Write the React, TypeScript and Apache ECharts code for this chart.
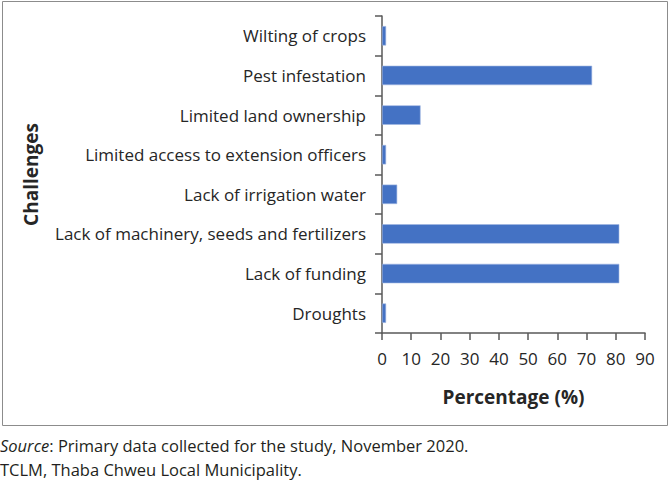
import React, { useEffect, useRef } from "react";
import * as echarts from "echarts";

const categories = [
  "Droughts",
  "Lack of funding",
  "Lack of machinery, seeds and fertilizers",
  "Lack of irrigation water",
  "Limited access to extension officers",
  "Limited land ownership",
  "Pest infestation",
  "Wilting of crops",
];
const values = [1.4, 81.2, 81.2, 5.2, 1.4, 13.2, 71.9, 1.4];
const xTicks = { min: 0, max: 90, interval: 10 };
const yTitle = "Challenges";
const xTitle = "Percentage (%)";
const noteLine1Italic = "Source";
const noteLine1Rest = ": Primary data collected for the study, November 2020.";
const noteLine2 = "TCLM, Thaba Chweu Local Municipality.";

const FONT = "'Open Sans', Lato, sans-serif";

export default function App() {
  const ref = useRef<HTMLDivElement>(null);
  useEffect(() => {
    if (!ref.current) return;
    const chart = echarts.init(ref.current, undefined, { renderer: "svg" });
    chart.setOption({
      animation: false,
      backgroundColor: "#ffffff",
      textStyle: { fontFamily: FONT },
      grid: { left: 382, right: 26, top: 16, bottom: 147, containLabel: false },
      xAxis: {
        type: "value",
        min: xTicks.min,
        max: xTicks.max,
        interval: xTicks.interval,
        axisLine: { show: true, lineStyle: { color: "#595959", width: 1.5 } },
        axisTick: { show: true, length: 7, lineStyle: { color: "#595959", width: 1.5 } },
        splitLine: { show: false },
        axisLabel: { color: "#262626", fontSize: 17, margin: 17, fontFamily: FONT },
        name: xTitle,
        nameLocation: "middle",
        nameGap: 54,
        nameTextStyle: { color: "#262626", fontSize: 19, fontWeight: "bold", fontFamily: FONT },
      },
      yAxis: {
        type: "category",
        data: categories,
        axisLine: { show: true, lineStyle: { color: "#595959", width: 1.5 } },
        axisTick: { show: true, length: 7, lineStyle: { color: "#595959", width: 1.5 } },
        axisLabel: { color: "#262626", fontSize: 17, margin: 16, fontFamily: FONT },
        name: yTitle,
        nameLocation: "middle",
        nameGap: 342,
        nameRotate: 90,
        nameTextStyle: { color: "#262626", fontSize: 19, fontWeight: "bold", fontFamily: FONT },
      },
      series: [
        {
          type: "bar",
          data: values,
          barCategoryGap: "51%",
          itemStyle: { color: "#4472C4", borderColor: "#9fb6e0", borderWidth: 0.6 },
        },
      ],
      graphic: [
        {
          type: "rect",
          shape: { x: 2.5, y: 1.5, width: 665, height: 424 },
          style: { fill: "none", stroke: "#8c8c8c", lineWidth: 1 },
          silent: true,
        },
        {
          type: "text",
          left: 0,
          top: 437,
          style: {
            text: "{i|" + noteLine1Italic + "}{n|" + noteLine1Rest + "}",
            rich: {
              i: { fontStyle: "italic", fontSize: 16.5, fill: "#231f20", fontFamily: FONT },
              n: { fontSize: 16.5, fill: "#231f20", fontFamily: FONT },
            },
          },
        },
        {
          type: "text",
          left: 0,
          top: 461,
          style: { text: noteLine2, fontSize: 16.5, fill: "#231f20", fontFamily: FONT },
        },
      ],
    });
    return () => chart.dispose();
  }, []);
  return (
    <div
      ref={ref}
      style={{ position: "fixed", left: 0, top: 0, width: 671, height: 480 }}
    />
  );
}
